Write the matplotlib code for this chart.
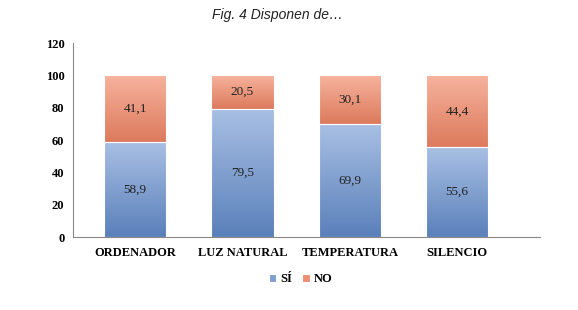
import matplotlib.pyplot as plt
from matplotlib.colors import LinearSegmentedColormap
import numpy as np

categories = ['ORDENADOR', 'LUZ NATURAL', 'TEMPERATURA', 'SILENCIO']
si_values = [58.9, 79.5, 69.9, 55.6]
no_values = [41.1, 20.5, 30.1, 44.4]
series_names = ['SÍ', 'NO']

blue = '#7D9FD0'
orange = '#EE8E72'
blue_cmap = LinearSegmentedColormap.from_list('b', ['#5A80BA', '#A9C0E4'])
orange_cmap = LinearSegmentedColormap.from_list('o', ['#DC7A5C', '#F7B39E'])

fig = plt.figure(figsize=(5.78, 3.10), dpi=100)
ax = fig.add_axes([0.126, 0.235, 0.808, 0.626])

x = np.arange(len(categories))
b1 = ax.bar(x, si_values, 0.58, color=blue, edgecolor='white', linewidth=0.8, label=series_names[0])
b2 = ax.bar(x, no_values, 0.58, bottom=si_values, color=orange, edgecolor='white', linewidth=0.8,
            label=series_names[1])

# vertical gradient fill, clipped to each bar
grad = np.linspace(0, 1, 256).reshape(-1, 1)
for bars, cmap in [(b1, blue_cmap), (b2, orange_cmap)]:
    for p in bars:
        x0, y0 = p.get_x(), p.get_y()
        im = ax.imshow(grad, cmap=cmap, origin='lower', aspect='auto', zorder=p.get_zorder(),
                       extent=[x0, x0 + p.get_width(), y0, y0 + p.get_height()])
        im.set_clip_path(p)
        p.set_facecolor('none')
        p.set_zorder(p.get_zorder() + 0.1)

for i in range(len(categories)):
    ax.text(x[i], si_values[i] / 2, ('%.1f' % si_values[i]).replace('.', ','),
            ha='center', va='center', fontsize=9.5, family='Liberation Serif', color='#222222', zorder=5)
    ax.text(x[i], si_values[i] + no_values[i] / 2, ('%.1f' % no_values[i]).replace('.', ','),
            ha='center', va='center', fontsize=9.5, family='Liberation Serif', color='#222222', zorder=5)

ax.set_ylim(0, 120)
ax.set_yticks(range(0, 121, 20))
ax.set_xlim(-0.58, 3.77)
ax.set_xticks(x)
ax.set_xticklabels(categories)
for lab in ax.get_xticklabels() + ax.get_yticklabels():
    lab.set_family('Liberation Serif')
    lab.set_fontweight('bold')
    lab.set_fontsize(9)
ax.tick_params(axis='both', length=0, pad=7)
ax.tick_params(axis='y', pad=6)
for s in ['top', 'right']:
    ax.spines[s].set_visible(False)
ax.spines['left'].set_color('#888888')
ax.spines['bottom'].set_color('#888888')

fig.text(0.48, 0.95, 'Fig. 4 Disponen de…', ha='center', va='center', style='italic',
         fontsize=10, family='Liberation Sans', stretch='condensed', color='#222222')

leg = fig.legend(handles=[b1, b2], loc='center', bbox_to_anchor=(0.52, 0.10), ncol=2, frameon=False,
                 handlelength=0.6, handleheight=0.6, handletextpad=0.3, columnspacing=0.8,
                 prop={'family': 'Liberation Serif', 'weight': 'bold', 'size': 9})
leg.legend_handles[0].set_facecolor(blue)
leg.legend_handles[1].set_facecolor(orange)

fig.savefig('out.png', dpi=100)
